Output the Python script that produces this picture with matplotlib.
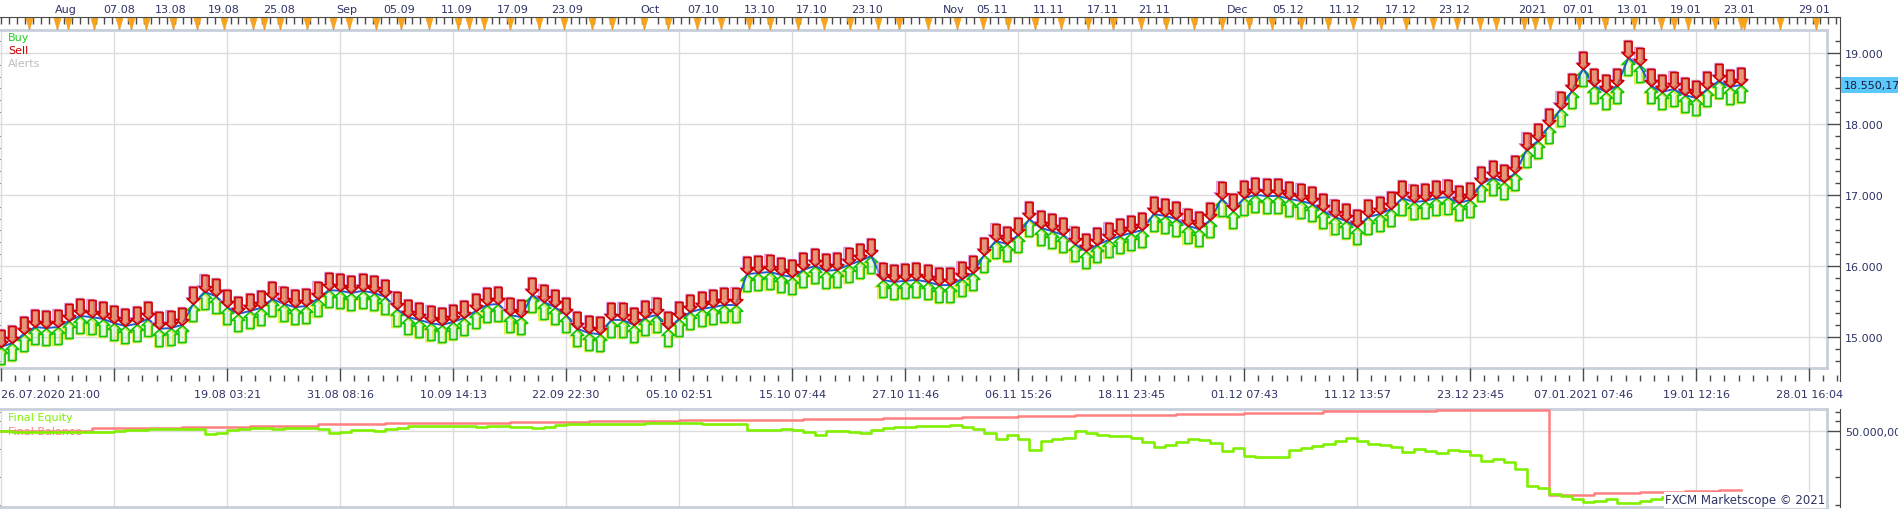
import numpy as np
import matplotlib
matplotlib.use("Agg")
import matplotlib.pyplot as plt
from matplotlib.path import Path
from matplotlib.markers import MarkerStyle
from matplotlib.ticker import MultipleLocator, FixedLocator, FuncFormatter, NullLocator
import matplotlib.transforms as mtransforms

# ---------------- data (one value per bar slot) ----------------
price = [
    14860, 14915, 15040, 15140, 15125, 15140, 15225, 15295, 15280, 15255,
    15195, 15155, 15185, 15255, 15115, 15125, 15170, 15465, 15635, 15575,
    15420, 15325, 15365, 15410, 15535, 15465, 15420, 15435, 15535, 15660,
    15650, 15620, 15650, 15620, 15565, 15395, 15280, 15240, 15195, 15170,
    15210, 15270, 15365, 15450, 15465, 15310, 15280, 15590, 15495, 15420,
    15310, 15115, 15055, 15040, 15240, 15240, 15170, 15270, 15310, 15115,
    15255, 15350, 15395, 15420, 15450, 15450, 15885, 15900, 15915, 15875,
    15845, 15945, 16000, 15930, 15945, 16015, 16070, 16140, 15805, 15775,
    15790, 15805, 15775, 15730, 15730, 15815, 15900, 16155, 16350, 16310,
    16435, 16660, 16535, 16490, 16435, 16310, 16210, 16295, 16365, 16420,
    16465, 16505, 16730, 16705, 16660, 16565, 16520, 16645, 16945, 16775,
    16955, 17000, 16985, 16985, 16945, 16915, 16875, 16775, 16690, 16635,
    16550, 16690, 16730, 16800, 16955, 16900, 16915, 16955, 16970, 16885,
    16930, 17155, 17240, 17185, 17310, 17635, 17760, 17970, 18210, 18465,
    18775, 18535, 18450, 18535, 18930, 18830, 18535, 18450, 18490, 18405,
    18365, 18490, 18605, 18520, 18550.17,
]

equity = [
    49850, 49750, 49600, 49500, 49500, 49500, 49500, 49500, 49500, 49750,
    50250, 50500, 50750, 51000, 51000, 51000, 51000, 51000, 48500, 49000,
    50500, 51250, 51350, 51350, 51250, 51350, 51350, 51350, 51000, 49000,
    49500, 50650, 50400, 50150, 51000, 51750, 52350, 52500, 52500, 52500,
    52500, 52400, 52250, 52350, 52650, 52250, 52200, 51500, 52000, 53000,
    53350, 53500, 53500, 53600, 53700, 53750, 53750, 53900, 54000, 54200,
    54150, 53900, 53700, 53500, 53450, 53400, 50500, 50500, 50750, 50850,
    50500, 49500, 48000, 50250, 50000, 49500, 49250, 50500, 51750, 52000,
    52250, 52500, 52500, 52750, 53000, 52250, 51000, 49000, 46000, 48000,
    46000, 40500, 45250, 46000, 46750, 50000, 49250, 48000, 47750, 47350,
    46750, 44500, 42000, 43000, 44500, 46250, 45500, 44000, 40000, 41500,
    37500, 37250, 37250, 37000, 40500, 41500, 42500, 43300, 45000, 46500,
    45000, 43750, 43000, 42250, 39500, 41000, 40000, 39250, 40500, 40000,
    38000, 35150, 36000, 34500, 31000, 22500, 21500, 18500, 17650, 16000,
    14500, 15000, 16000, 14000, 14250, 15150, 16000, 17000, 17650, 17750,
    17750, 17750, 17750, 17750, 17750,
]

balance = ([50150] * 8 + [51350] * 4 + [51650] * 4 + [52150] * 6 + [52650] * 6 +
           [53350] * 6 + [53850] * 4 + [54250] * 7 + [54750] * 7 + [55250] * 8 +
           [55750] * 11 + [56250] * 7 + [56750] * 7 + [57250] * 5 + [57600] * 5 +
           [58100] * 9 + [58600] * 6 + [59100] * 7 + [59800] * 10 + [60350] * 10 +
           [18150] * 4 + [19000] * 4 + [19650] * 4 + [20150] * 3 + [20650] * 3)

bottom_labels = ["26.07.2020 21:00", "19.08 03:21", "31.08 08:16", "10.09 14:13",
                 "22.09 22:30", "05.10 02:51", "15.10 07:44", "27.10 11:46",
                 "06.11 15:26", "18.11 23:45", "01.12 07:43", "11.12 13:57",
                 "23.12 23:45", "07.01.2021 07:46", "19.01 12:16", "28.01 16:04"]
bottom_label_bars = [0, 20, 30, 40, 50, 60, 70, 80, 90, 100, 110, 120, 130, 140, 150, 160]

top_labels = ["Aug", "07.08", "13.08", "19.08", "25.08", "Sep", "05.09", "11.09",
              "17.09", "23.09", "Oct", "07.10", "13.10", "17.10", "23.10", "Nov",
              "05.11", "11.11", "17.11", "21.11", "Dec", "05.12", "11.12", "17.12",
              "23.12", "2021", "07.01", "13.01", "19.01", "23.01", "29.01"]
top_label_bars = [5.75, 10.44, 15.04, 19.73, 24.6, 30.6, 35.2, 40.3, 45.3, 50.1,
                  57.4, 62.1, 67.1, 71.7, 76.6, 84.3, 87.7, 92.7, 97.5, 102.0,
                  109.4, 113.9, 118.9, 123.9, 128.6, 135.5, 139.6, 144.4, 149.1,
                  153.8, 160.4]

event_bars = [2.5, 4.9, 5.9, 8.2, 10.4, 11.5, 12.8, 15.2, 17.3, 19.7, 22.3, 23.3,
              24.7, 27.1, 29.4, 30.8, 33.2, 35.4, 37.9, 40.4, 41.4, 42.7,
              45.0, 47.6, 49.8, 52.3, 54.1, 56.9, 59.0, 61.6, 63.7, 66.2, 68.0,
              70.5, 72.8, 75.1, 77.6, 79.5, 82.0, 84.6, 86.9, 89.1, 91.5, 93.8,
              96.2, 98.4, 100.9, 103.1, 105.6, 108.0, 110.4, 112.5, 115.0, 117.4,
              119.6, 122.1, 124.3, 126.7,
              128.8, 130.9, 132.3, 134.8, 135.7, 137.1, 139.6, 141.9, 144.5,
              146.9, 148.0, 149.3, 151.7, 154.0, 154.2, 157.4, 160.6]

# ---------------- layout ----------------
W, H = 1899, 510
PX_PER_BAR = 11.3
X0 = -0.1
NAVY = "#2e3466"
FRAME = "#c7cfda"
GRID = "#dcdcdc"
AXIS = "#4a4a4a"


def xl(width_px):
    return (X0, X0 + width_px / PX_PER_BAR)


def rect(x0, y0, x1, y1):
    return [x0 / W, 1 - y1 / H, (x1 - x0) / W, (y1 - y0) / H]


def euro(v, decimals=0):
    s = f"{v:,.{decimals}f}"
    return s.replace(",", "#").replace(".", ",").replace("#", ".")


fig = plt.figure(figsize=(W / 100, H / 100), dpi=100)
fig.patch.set_facecolor("white")

bars = np.arange(len(price))

# main price panel
ax = fig.add_axes(rect(0, 31, 1827, 369))
ax.set_xlim(*xl(1827))
ax.set_ylim(14563, 19322)
ax.xaxis.set_major_locator(MultipleLocator(10))
ax.yaxis.set_major_locator(MultipleLocator(1000))
ax.grid(True, color=GRID, lw=1)
ax.set_axisbelow(True)
ax.tick_params(length=0, labelbottom=False, labelleft=False)
for side in ("top", "bottom", "right"):
    ax.spines[side].set_color(FRAME)
    ax.spines[side].set_linewidth(2)
ax.spines["left"].set_visible(False)


def arrow_marker(up):
    s = -1 if up else 1
    verts = [(0, 0), (0.37, 0.34 * s), (0.21, 0.34 * s), (0.21, 1.0 * s),
             (-0.21, 1.0 * s), (-0.21, 0.34 * s), (-0.37, 0.34 * s), (0, 0)]
    codes = [Path.MOVETO] + [Path.LINETO] * 6 + [Path.CLOSEPOLY]
    return MarkerStyle(Path(verts, codes))


def shifted(a, dx, dy):
    return a.transData + mtransforms.ScaledTranslation(dx / 100, dy / 100, fig.dpi_scale_trans)


sell_m = arrow_marker(False)
buy_m = arrow_marker(True)
MS = 24.5

# buy arrows (below price)
ax.plot(bars, price, ls="none", marker=buy_m, ms=MS, mfc="none", mec="#e4ec3a",
        mew=1.2, transform=shifted(ax, -1.2, -1.0), zorder=3)
ax.plot(bars, price, ls="none", marker=buy_m, ms=MS, mfc=(0.3, 0.85, 0.3, 0.12),
        mec="#14c414", mew=1.2, zorder=3.2)
# price line
ax.plot(bars, price, color="#1e5fc8", lw=1.4, zorder=4)
# sell arrows (above price)
ax.plot(bars, price, ls="none", marker=sell_m, ms=MS, mfc="none", mec="#d08ad8",
        mew=1.0, transform=shifted(ax, -1.2, 1.0), zorder=5)
ax.plot(bars, price, ls="none", marker=sell_m, ms=MS, mfc=(0.84, 0.32, 0.12, 0.6),
        mec="#d00000", mew=1.2, zorder=5.2)

fig.text(8 / W, 1 - 38 / H, "Buy", color="#22cc22", fontsize=8, va="center")
fig.text(8 / W, 1 - 51 / H, "Sell", color="#cc0000", fontsize=8, va="center")
fig.text(8 / W, 1 - 64 / H, "Alerts", color="#bdbdbd", fontsize=8, va="center")

# right price axis
axr = fig.add_axes(rect(1827, 31, 1840, 369), sharey=ax)
axr.set_xlim(0, 1)
axr.patch.set_visible(False)
for side in ("top", "bottom", "left"):
    axr.spines[side].set_visible(False)
axr.spines["right"].set_color(AXIS)
axr.xaxis.set_major_locator(NullLocator())
axr.yaxis.tick_right()
axr.yaxis.set_major_locator(MultipleLocator(1000))
axr.yaxis.set_minor_locator(MultipleLocator(1000 / 6))
axr.yaxis.set_major_formatter(FuncFormatter(lambda v, p: euro(v)))
axr.tick_params(axis="y", which="major", direction="in", length=9.4, width=1,
                color=AXIS, labelsize=8, labelcolor=NAVY, pad=3.6)
axr.tick_params(axis="y", which="minor", direction="in", length=3.6, width=1, color=AXIS)
axr.annotate(euro(price[-1], 2), xy=(1, price[-1]), xycoords=("axes fraction", "data"),
             xytext=(4, 0), textcoords="offset pixels", ha="left", va="center",
             fontsize=8, color="#1a1a40", annotation_clip=False,
             bbox=dict(boxstyle="square,pad=0.25", fc="#5ac8fa", ec="none"))

# top date axis
axt = fig.add_axes(rect(0, 18, 1840, 31))
axt.set_xlim(*xl(1840))
axt.set_ylim(0, 1)
axt.patch.set_visible(False)
for side in ("bottom", "left"):
    axt.spines[side].set_visible(False)
axt.spines["top"].set_color(AXIS)
axt.spines["right"].set_color(AXIS)
axt.yaxis.set_major_locator(NullLocator())
axt.xaxis.tick_top()
axt.xaxis.set_major_locator(FixedLocator(top_label_bars))
axt.set_xticklabels(top_labels)
axt.xaxis.set_minor_locator(MultipleLocator(0.7))
axt.tick_params(axis="x", which="major", length=0, labelsize=8, labelcolor=NAVY, pad=2.5)
axt.tick_params(axis="x", which="minor", direction="in", length=5, width=1, color=AXIS)
axt.vlines(event_bars, 1 - 12 / 13, 1, color=AXIS, lw=1)
tri = MarkerStyle(Path([(-0.32, 0), (0.32, 0), (0, -1), (-0.32, 0)],
                       [Path.MOVETO, Path.LINETO, Path.LINETO, Path.CLOSEPOLY]))
axt.plot(event_bars, [1] * len(event_bars), ls="none", marker=tri, ms=15.8,
         mfc="#f6a31f", mec="#f6a31f", mew=0.5, clip_on=False,
         transform=shifted(axt, 0, -1))

# bottom date axis
axb = fig.add_axes(rect(0, 369, 1840, 382))
axb.set_xlim(*xl(1840))
axb.set_ylim(0, 1)
axb.patch.set_visible(False)
for side in ("top", "bottom", "left"):
    axb.spines[side].set_visible(False)
axb.spines["right"].set_color(AXIS)
axb.yaxis.set_major_locator(NullLocator())
axb.xaxis.set_major_locator(FixedLocator(list(range(0, 161, 10))))
axb.set_xticklabels([bottom_labels[bottom_label_bars.index(b)] if b in bottom_label_bars else ""
                     for b in range(0, 161, 10)])
axb.xaxis.set_minor_locator(MultipleLocator(1.25))
axb.tick_params(axis="x", which="major", direction="in", length=9.4, width=1,
                color=AXIS, labelsize=8, labelcolor=NAVY, pad=6)
axb.tick_params(axis="x", which="minor", direction="in", length=4.3, width=1, color=AXIS)
axb.get_xticklabels()[0].set_horizontalalignment("left")

# lower equity panel
axl = fig.add_axes(rect(0, 410, 1827, 508))
axl.set_xlim(*xl(1827))
axl.set_ylim(12000, 61000)
axl.xaxis.set_major_locator(MultipleLocator(10))
axl.yaxis.set_major_locator(FixedLocator([50000]))
axl.grid(True, color=GRID, lw=1)
axl.set_axisbelow(True)
axl.tick_params(length=0, labelbottom=False, labelleft=False)
for side in ("top", "bottom", "right"):
    axl.spines[side].set_color(FRAME)
    axl.spines[side].set_linewidth(2)
axl.spines["left"].set_visible(False)
axl.plot(bars, balance, drawstyle="steps-post", color="#ff8080", lw=1.8, zorder=3)
axl.plot(bars, equity, drawstyle="steps-post", color="#80f000", lw=1.9, zorder=4)
axl.text(8 / 1827, 1 - 8 / 98, "Final Equity", transform=axl.transAxes, color="#80f000",
         fontsize=8, va="center", zorder=2)
axl.text(8 / 1827, 1 - 22 / 98, "Final Balance", transform=axl.transAxes, color="#ff8080",
         fontsize=8, va="center", zorder=2)
axl.text(1 - 2 / 1827, 1 - 91 / 98, "FXCM Marketscope \u00a9 2021", transform=axl.transAxes,
         color=NAVY, fontsize=8.5, ha="right", va="center", zorder=6,
         bbox=dict(boxstyle="square,pad=0.1", fc="white", ec="none"))

axlr = fig.add_axes(rect(1827, 410, 1840, 508), sharey=axl)
axlr.set_xlim(0, 1)
axlr.patch.set_visible(False)
for side in ("top", "bottom", "left"):
    axlr.spines[side].set_visible(False)
axlr.spines["right"].set_color(AXIS)
axlr.xaxis.set_major_locator(NullLocator())
axlr.yaxis.tick_right()
axlr.yaxis.set_major_locator(FixedLocator([50000]))
axlr.yaxis.set_minor_locator(FixedLocator([59500, 55000, 41000, 27000, 13000]))
axlr.yaxis.set_major_formatter(FuncFormatter(lambda v, p: euro(v, 2)))
axlr.tick_params(axis="y", which="major", direction="in", length=9.4, width=1,
                 color=AXIS, labelsize=8, labelcolor=NAVY, pad=3.6)
axlr.tick_params(axis="y", which="minor", direction="in", length=3.6, width=1, color=AXIS)

fig.savefig("out.png", dpi=100)
